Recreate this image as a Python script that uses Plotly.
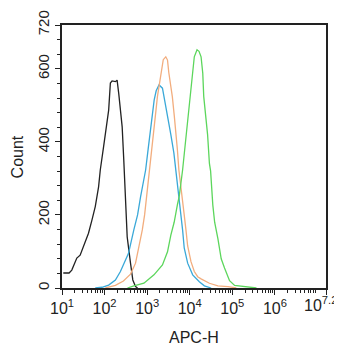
import numpy as np
import plotly.graph_objects as go

# APC-H intensity positions (log10 units) and counts
black_log = [1.03, 1.166, 1.23, 1.348, 1.426, 1.544, 1.622, 1.703, 1.781, 1.859, 1.899, 1.977, 2.017,
             2.096, 2.136, 2.176, 2.254, 2.294, 2.332, 2.413, 2.451, 2.491, 2.531, 2.609, 2.663, 2.727, 2.775]
black_cnt = [41, 41, 49, 82, 90, 127, 150, 186, 223, 277, 323, 387, 424,
             487, 561, 567, 565, 569, 533, 441, 350, 232, 140, 68, 22, 4, 0]

blue_log = [1.781, 1.939, 2.096, 2.254, 2.372, 2.451, 2.562, 2.687, 2.775, 2.846, 2.905, 2.964,
            3.023, 3.082, 3.130, 3.165, 3.212, 3.279, 3.359, 3.397, 3.478, 3.556, 3.627, 3.674,
            3.752, 3.792, 3.832, 3.870, 3.951, 4.069, 4.225, 4.344, 4.502]
blue_cnt = [0, 2, 8, 22, 45, 68, 95, 159, 200, 250, 290, 323,
            380, 432, 470, 515, 540, 556, 547, 524, 469, 420, 370, 323,
            250, 200, 159, 110, 68, 36, 17, 6, 0]

orange_log = [2.017, 2.254, 2.443, 2.609, 2.727, 2.806, 2.886, 2.940, 2.988, 3.035,
              3.066, 3.118, 3.160, 3.201, 3.241, 3.284, 3.331, 3.378, 3.437, 3.478,
              3.508, 3.556, 3.591, 3.638, 3.674, 3.709, 3.745, 3.792, 3.832, 3.870,
              3.911, 3.951, 4.029, 4.107, 4.187, 4.266, 4.462, 4.661, 4.897, 5.094]
orange_cnt = [0, 7, 19, 38, 68, 110, 159, 200, 250, 290,
              323, 380, 432, 480, 524, 560, 600, 625, 633, 624,
              590, 550, 524, 470, 432, 380, 323, 280, 250, 200,
              159, 115, 72, 45, 31, 25, 13, 6, 4, 0]

green_log = [2.538, 2.687, 2.924, 3.160, 3.359, 3.478, 3.556, 3.634, 3.714, 3.752,
             3.832, 3.875, 3.934, 3.982, 4.012, 4.069, 4.107, 4.171, 4.218, 4.266,
             4.306, 4.329, 4.372, 4.419, 4.462, 4.490, 4.542, 4.585, 4.661, 4.739,
             4.817, 4.935, 5.054, 5.290, 5.567]
green_cnt = [0, 6, 13, 36, 63, 99, 145, 180, 230, 250,
             323, 370, 432, 480, 524, 590, 633, 652, 648, 633,
             588, 524, 470, 420, 341, 320, 227, 180, 135, 80,
             55, 20, 7, 3, 0]

xtick_exp = [1, 2, 3, 4, 5, 6, 7.2]
xtick_text = ["10<sup>1</sup>", "10<sup>2</sup>", "10<sup>3</sup>", "10<sup>4</sup>",
              "10<sup>5</sup>", "10<sup>6</sup>", "10<sup>7.2</sup>"]
ytick_vals = [0, 200, 400, 600, 720]
x_title = "APC-H"
y_title = "Count"

series = [
    (black_log, black_cnt, "#222222"),
    (blue_log, blue_cnt, "#3aa8d8"),
    (orange_log, orange_cnt, "#f2ad7e"),
    (green_log, green_cnt, "#5cd65c"),
]

fig = go.Figure()
for lg, cnt, col in series:
    fig.add_trace(go.Scatter(x=10 ** np.array(lg), y=cnt, mode="lines",
                             line=dict(color=col, width=1.3), hoverinfo="skip",
                             showlegend=False))

minor_x = [k * 10 ** d for d in range(1, 8) for k in range(2, 10) if np.log10(k * 10 ** d) < 7.2]
minor_y = [v for v in range(0, 721, 40) if v not in ytick_vals]

font = "Liberation Sans, Arial, sans-serif"
# page body has an 8px margin, so the figure is 8px smaller and margins are offset by 8px
fig.update_layout(
    width=334, height=342,
    margin=dict(l=54, r=16, t=17, b=62),
    paper_bgcolor="white", plot_bgcolor="white",
    font=dict(family=font, size=15, color="#222222"),
    showlegend=False,
)
# main tick labels; the last (10^7.2) is placed as an annotation so it is not clipped
fig.update_xaxes(
    type="log", range=[1, 7.2], autorange=False, automargin=False,
    tickmode="array", tickvals=[10 ** e for e in xtick_exp],
    ticktext=xtick_text[:-1] + [""],
    ticks="outside", ticklen=5, tickwidth=1.2, tickcolor="#222222",
    minor=dict(tickmode="array", tickvals=minor_x, ticks="outside", ticklen=3,
               tickwidth=1, tickcolor="#222222", showgrid=False),
    showline=True, linecolor="#222222", linewidth=1.5, mirror=True,
    showgrid=False, zeroline=False,
    tickfont=dict(size=16),
)
fig.update_yaxes(
    range=[0, 720], autorange=False, automargin=False,
    tickmode="array", tickvals=ytick_vals,
    tickangle=-90,
    ticks="outside", ticklen=5, tickwidth=1.2, tickcolor="#222222",
    minor=dict(tickmode="array", tickvals=minor_y, ticks="outside", ticklen=3,
               tickwidth=1, tickcolor="#222222", showgrid=False),
    showline=True, linecolor="#222222", linewidth=1.5, mirror=True,
    showgrid=False, zeroline=False,
    tickfont=dict(size=15),
)
fig.add_annotation(x=xtick_exp[-1], y=0, xref="x", yref="paper", text=xtick_text[-1],
                   showarrow=False, xanchor="center", yanchor="top", xshift=-6, yshift=-4,
                   font=dict(size=16))
fig.add_annotation(x=0.5, y=-0.188, xref="paper", yref="paper", text=x_title,
                   showarrow=False, xanchor="center", yanchor="middle", font=dict(size=16))
fig.add_annotation(x=-0.167, y=0.5, xref="paper", yref="paper", text=y_title, textangle=-90,
                   showarrow=False, xanchor="center", yanchor="middle", font=dict(size=16))

fig.write_html("out.html")
